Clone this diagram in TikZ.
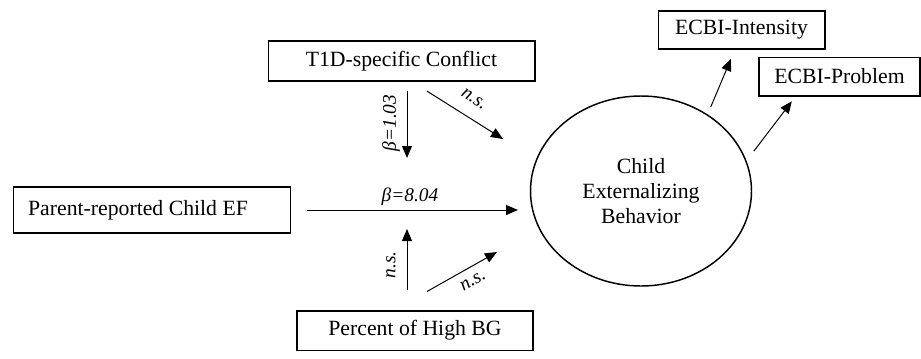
\documentclass[tikz,border=0pt]{standalone}
\usepackage{fontspec}
\setmainfont{Liberation Serif}
\usetikzlibrary{arrows.meta,shapes.geometric}
\tikzset{every picture/.style={line width=0.75pt}}
\tikzset{
  varbox/.style={draw, line width=1pt, inner sep=0pt, font=\fontsize{16.3}{19}\selectfont},
  latent/.style={draw, ellipse, line width=1.1pt, inner sep=0pt, align=center, font=\fontsize{16.3}{19}\selectfont},
  path/.style={-{Triangle[length=9pt,width=7.5pt]}, line width=0.75pt},
  coef/.style={inner sep=0.75pt, font=\fontsize{14.5}{17}\selectfont\itshape}
}

\begin{document}
\begin{tikzpicture}[x=0.75pt,y=0.75pt,yscale=-1,xscale=1]
\path[use as bounding box] (0,0) rectangle (921,358);

%Shape: Rectangles
\node [varbox, minimum width=200pt, minimum height=30pt] (conflict) at (401.5,61) {T1D-specific Conflict};
\node [varbox, minimum width=207.75pt, minimum height=34.5pt] (parentef) at (152,210) {\hspace{-21pt}Parent-reported Child EF};
\node [varbox, minimum width=177pt, minimum height=29.5pt] (highbg) at (415,330.5) {Percent of High BG};
\node [varbox, minimum width=125pt, minimum height=28.5pt] (intensity) at (741.5,30) {ECBI-Intensity};
\node [varbox, minimum width=120.75pt, minimum height=29pt] (problem) at (839.5,76.5) {ECBI-Problem};
%Shape: Ellipse
\node [latent, minimum width=165.75pt, minimum height=142.5pt] (cbx) at (641,191) {Child\\[0pt]Externalizing\\[0pt]Behavior};

%Free ends
\coordinate (efend) at (518,210);
\coordinate (modtop) at (407,158);
\coordinate (modbot) at (407,229);
\coordinate (nsendA) at (503,139);
\coordinate (nsendB) at (497,252);

%Straight Lines
\draw [path, shorten <=12pt] (parentef.east) -- (efend);
\draw [path, shorten <=7pt] (conflict.south -| modtop) -- (modtop);
\draw [path] ([xshift=19pt,yshift=7pt]conflict.south) -- (nsendA);
\draw [path, shorten <=15.5pt] (highbg.north -| modbot) -- (modbot);
\draw [path] ([xshift=9pt,yshift=-14pt]highbg.north) -- (nsendB);
\draw [path, shorten <=6pt, shorten >=7.5pt] (cbx.49) -- ([xshift=-5pt]intensity.south);
\draw [path, shorten <=9pt, shorten >=4.5pt] (cbx.16) -- ([xshift=-33pt]problem.south);

% Text Node
\node [coef] (bef) at (410,197) {β=8.04};
\node [coef, rotate=90] (bcf) at (391,123) {β=1.03};
\node [coef, rotate=-33] (nscf) at (474,99) {n.s.};
\node [coef, rotate=90] (nsbg) at (391,265) {n.s.};
\node [coef, rotate=30] (nsbgc) at (473,281) {n.s.};

\end{tikzpicture}
\end{document}
